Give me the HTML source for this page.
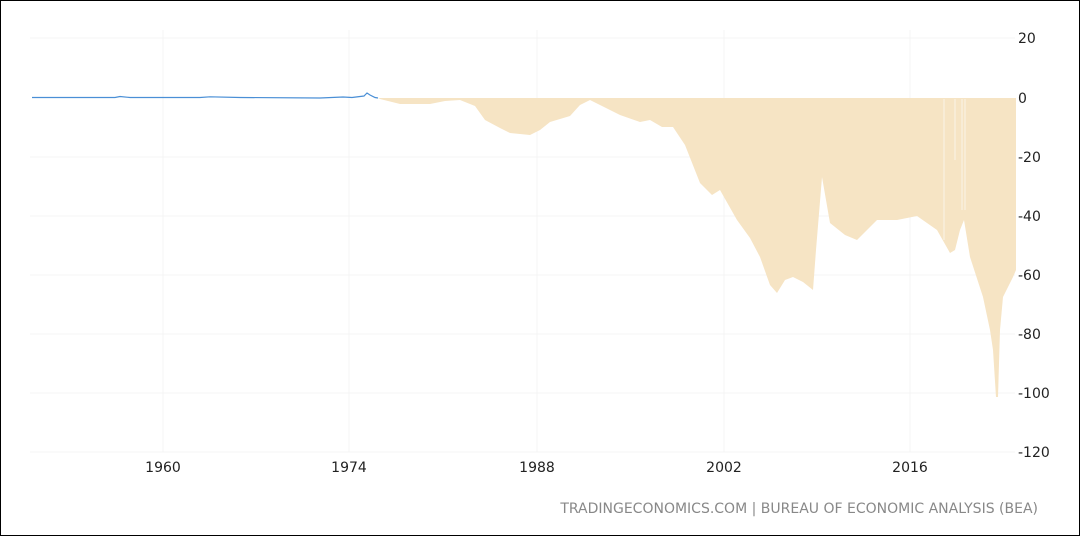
<!DOCTYPE html>
<html><head><style>
body{margin:0;background:#fff;}
.w{position:relative;width:1078px;height:534px;border:1px solid #000;overflow:hidden;font-family:"DejaVu Sans","Liberation Sans",sans-serif;}
svg text{font-family:"DejaVu Sans","Liberation Sans",sans-serif;}
</style></head><body><div class="w">
<svg width="1078" height="534" viewBox="1 1 1078 534">
<g stroke="#f4f4f4" stroke-width="1">
<line x1="30" y1="38" x2="1015" y2="38"/><line x1="30" y1="157" x2="1015" y2="157"/><line x1="30" y1="216" x2="1015" y2="216"/><line x1="30" y1="275" x2="1015" y2="275"/><line x1="30" y1="334" x2="1015" y2="334"/><line x1="30" y1="393" x2="1015" y2="393"/><line x1="30" y1="452" x2="1015" y2="452"/>
<line x1="163" y1="30" x2="163" y2="452"/><line x1="349" y1="30" x2="349" y2="452"/><line x1="537" y1="30" x2="537" y2="452"/><line x1="724" y1="30" x2="724" y2="452"/><line x1="910" y1="30" x2="910" y2="452"/>
</g>
<polygon fill="#f6e4c4" points="378,98 380,99 400,104 430,104 445,101 460,100 475,106 485,120 500,128 510,133 530,135 540,130 550,122 570,116 580,105 590,100 600,105 620,115 640,122 650,120 662,127 673,127 685,145 700,183 712,195 720,190 737,220 750,238 760,257 770,285 777,293 785,280 793,277 803,282 813,290 816,250 822,177 826,200 830,223 845,235 857,240 867,230 877,220 897,220 917,216 937,230 950,253 955,250 960,230 964,220 970,257 983,297 990,330 993,350 996,397 998,397 1000,330 1003,297 1013,277 1016,270 1016,98"/>
<g stroke="#fff" stroke-width="1" opacity="0.6"><line x1="944" y1="99" x2="944" y2="240"/><line x1="962" y1="99" x2="962" y2="210"/><line x1="965" y1="99" x2="965" y2="210"/><line x1="955" y1="99" x2="955" y2="160"/></g>
<polyline fill="none" stroke="#4a8fd6" stroke-width="1.2" points="32,97.5 115,97.5 120,96.5 130,97.5 200,97.5 210,96.8 240,97.5 320,98 343,97 352,97.5 364,96 367,93 370,95 375,97.5 378,98"/>
<g font-size="14" fill="#222">
<text x="1018" y="43">20</text><text x="1018" y="103">0</text><text x="1018" y="162">-20</text><text x="1018" y="221">-40</text><text x="1018" y="280">-60</text><text x="1018" y="339">-80</text><text x="1018" y="398">-100</text><text x="1018" y="457">-120</text>
</g>
<g font-size="14" fill="#222" text-anchor="middle">
<text x="163" y="472">1960</text><text x="349" y="472">1974</text><text x="537" y="472">1988</text><text x="724" y="472">2002</text><text x="910" y="472">2016</text>
</g>
<text x="1038" y="513" font-size="14" fill="#888" text-anchor="end">TRADINGECONOMICS.COM | BUREAU OF ECONOMIC ANALYSIS (BEA)</text>
</svg></div></body></html>
